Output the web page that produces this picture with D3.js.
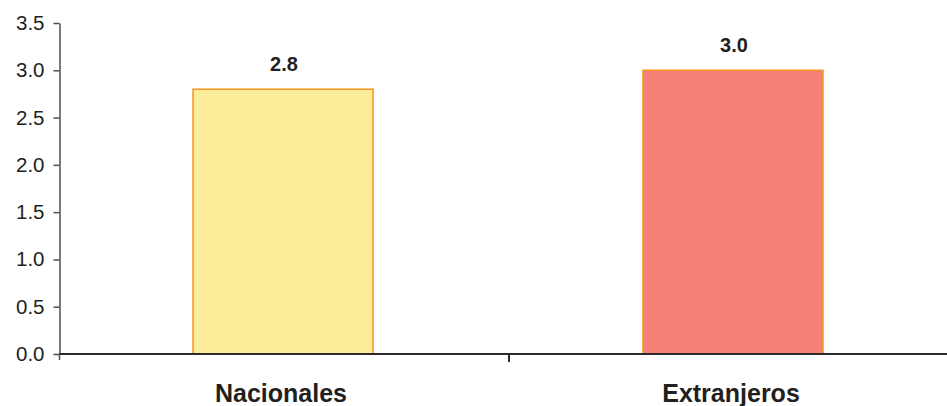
<!DOCTYPE html>
<html>
<head>
<meta charset="utf-8">
<script src="https://cdn.jsdelivr.net/npm/d3@7"></script>
<style>
  html, body { margin: 0; padding: 0; background: #fff; }
  svg { display: block; }
  text { font-family: "Liberation Sans", Arial, Helvetica, sans-serif; fill: #231f20; }
</style>
</head>
<body>
<svg id="chart" width="947" height="406"></svg>
<script>
const categories = ["Nacionales", "Extranjeros"];
const values = [2.8, 3.0];
const valueLabels = ["2.8", "3.0"];
const yTicks = [0, 0.5, 1.0, 1.5, 2.0, 2.5, 3.0, 3.5];
const fills = ["#fced9b", "#f48078"];

const svg = d3.select("#chart");

const y = d3.scaleLinear().domain([0, 3.5]).range([354, 23]);
const x = d3.scaleBand().domain(categories).range([58, 958])
  .paddingInner(0.6).paddingOuter(0.3);

// Bars
svg.selectAll("rect.bar").data(values).enter().append("rect")
  .attr("class", "bar")
  .attr("x", (d, i) => x(categories[i]))
  .attr("width", x.bandwidth())
  .attr("y", d => y(d))
  .attr("height", d => y(0) - y(d))
  .attr("fill", (d, i) => fills[i])
  .attr("stroke", "#f7941d")
  .attr("stroke-width", 1.5);

// Value labels
svg.selectAll("text.val").data(values).enter().append("text")
  .attr("class", "val")
  .attr("x", (d, i) => x(categories[i]) + x.bandwidth() / 2 + 1)
  .attr("y", d => y(d) - 18)
  .attr("text-anchor", "middle")
  .attr("font-size", 20)
  .attr("font-weight", "bold")
  .text((d, i) => valueLabels[i]);

// Y axis
const yAxis = d3.axisLeft(y).tickValues(yTicks).tickFormat(d3.format(".1f"))
  .tickSize(6).tickSizeOuter(0).tickPadding(9);
const gy = svg.append("g").attr("transform", "translate(59.5,0)").call(yAxis);
gy.select(".domain").attr("stroke", "#4a4f50").attr("stroke-width", 1.5);
gy.selectAll(".tick line").attr("stroke", "#4a4f50").attr("stroke-width", 1.5);
gy.selectAll(".tick text").attr("font-size", 20.5).attr("fill", "#231f20")
  .attr("font-family", "'Liberation Sans', Arial, sans-serif");

// X axis
const xTickPositions = [x.step() * 1 + 59];
svg.append("line")
  .attr("x1", 59).attr("x2", 947)
  .attr("y1", y(0)).attr("y2", y(0))
  .attr("stroke", "#2b2b2b").attr("stroke-width", 2);
svg.selectAll("line.xtick").data(xTickPositions).enter().append("line")
  .attr("class", "xtick")
  .attr("x1", d => d).attr("x2", d => d)
  .attr("y1", y(0)).attr("y2", y(0) + 8)
  .attr("stroke", "#2b2b2b").attr("stroke-width", 2);
svg.append("line")
  .attr("x1", 59.5).attr("x2", 59.5)
  .attr("y1", y(0)).attr("y2", y(0) + 6)
  .attr("stroke", "#4a4f50").attr("stroke-width", 1.5);

// Category labels
svg.selectAll("text.cat").data(categories).enter().append("text")
  .attr("class", "cat")
  .attr("x", d => x(d) + x.bandwidth() / 2 - 2)
  .attr("y", 402)
  .attr("text-anchor", "middle")
  .attr("font-size", 25)
  .attr("font-weight", "bold")
  .text(d => d);
</script>
</body>
</html>
